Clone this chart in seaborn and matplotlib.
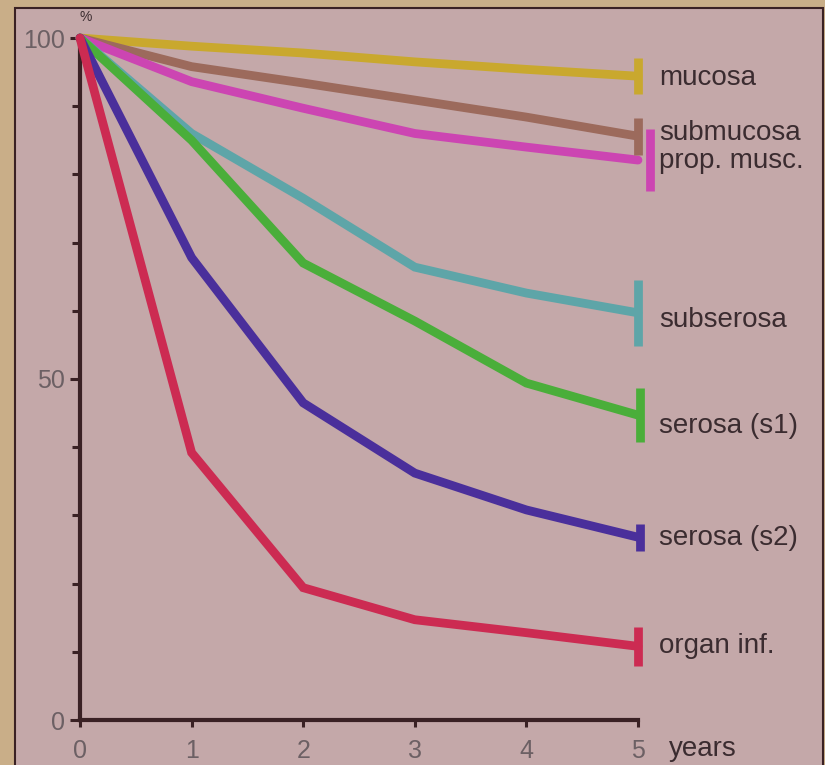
import matplotlib
matplotlib.use("Agg")
import matplotlib.pyplot as plt
from matplotlib.patches import Rectangle
import seaborn as sns
import pandas as pd

# ---- data ----
years = [0, 1, 2, 3, 4, 5]
layers = ["mucosa", "submucosa", "prop. musc.", "subserosa",
          "serosa (s1)", "serosa (s2)", "organ inf."]
mucosa = [100, 98.8, 97.8, 96.5, 95.4, 94.4]
submucosa = [100, 95.8, 93.4, 90.9, 88.4, 85.6]
prop_musc = [100, 93.6, 89.7, 86.0, 84.0, 82.1]
subserosa = [100, 86.0, 76.5, 66.4, 62.6, 59.7]
serosa_s1 = [100, 85.0, 67.0, 58.5, 49.4, 44.7]
serosa_s2 = [100, 67.8, 46.5, 36.2, 30.8, 26.8]
organ_inf = [100, 39.2, 19.4, 14.7, 12.8, 10.8]
series = [mucosa, submucosa, prop_musc, subserosa, serosa_s1, serosa_s2, organ_inf]
y_ticks = [0, 50, 100]
y_tick_labels = ["0", "50", "100"]
x_tick_labels = ["0", "1", "2", "3", "4", "5"]

# ---- style ----
colors = ["#c9a82e", "#9c6a5c", "#cc45b2", "#5ea5a8",
          "#4aae3a", "#4a2f9b", "#cc2b52"]
cap_half = [2.6, 2.7, 4.6, 4.8, 4.0, 2.0, 2.9]
cap_dx = [0, 0, 0.11, 0, 0.02, 0.02, 0]
label_dy_pts = [-1, 2.5, -0.5, -5.5, -7.5, -0.5, 0.5]
panel_col = "#c4a8a9"
frame_col = "#c9ae88"
axis_col = "#3a2124"
text_col = "#3b2c30"
tick_col = "#6c6064"

rows = []
for name, vals in zip(layers, series):
    for yr, v in zip(years, vals):
        rows.append({"year": yr, "pct": v, "layer": name})
df = pd.DataFrame(rows)

sns.set_style("white")
plt.rcParams["font.family"] = ["Liberation Sans", "DejaVu Sans"]

W, H = 825, 765
fig = plt.figure(figsize=(W / 100, H / 100), dpi=100, facecolor=frame_col)
panel = Rectangle((15 / W, -0.01), (823 - 15) / W, (H - 8) / H + 0.01,
                  transform=fig.transFigure, facecolor=panel_col,
                  edgecolor=axis_col, linewidth=1.5, zorder=-10)
fig.patches.append(panel)

ax = fig.add_axes([80 / W, (H - 720) / H, (638 - 80) / W, (720 - 38) / H])
ax.set_zorder(5)
ax.patch.set_alpha(0)

sns.lineplot(data=df, x="year", y="pct", hue="layer", hue_order=layers,
             palette=dict(zip(layers, colors)), linewidth=6.3, legend=False,
             ax=ax, zorder=3)
for ln in ax.lines:
    ln.set_clip_on(False)
    ln.set_solid_joinstyle("miter")

for vals, c, h, dx, dy, name in zip(series, colors, cap_half, cap_dx, label_dy_pts, layers):
    end = vals[-1]
    ax.vlines(years[-1] + dx, end - h, end + h, color=c, linewidth=6.3,
              clip_on=False, zorder=4)
    ax.annotate(name, xy=(years[-1], end), xytext=(15, dy),
                textcoords="offset points", va="center", ha="left",
                fontsize=20, color=text_col, annotation_clip=False)

ax.set_xlim(0, 5)
ax.set_ylim(0, 100)
ax.set_xticks(years)
ax.set_xticklabels(x_tick_labels)
ax.set_yticks(y_ticks)
ax.set_yticklabels(y_tick_labels)
ax.set_yticks(range(0, 101, 10), minor=True)
ax.set_xlabel("")
ax.set_ylabel("")
for s in ["top", "right"]:
    ax.spines[s].set_visible(False)
for s in ["left", "bottom"]:
    ax.spines[s].set_color(axis_col)
    ax.spines[s].set_linewidth(3)
ax.tick_params(axis="both", which="both", direction="out", color=axis_col,
               width=2.2, labelcolor=tick_col, labelsize=18,
               bottom=True, left=True)
ax.tick_params(axis="y", which="major", length=7, pad=4)
ax.tick_params(axis="y", which="minor", length=6)
ax.tick_params(axis="x", which="major", length=5, pad=9)

ax.text(0.0, 1.02, "%", transform=ax.transAxes, fontsize=10, color=text_col,
        ha="left", va="bottom")
ax.annotate("years", xy=(5, 0), xytext=(22, -21), textcoords="offset points",
            fontsize=20, color=text_col, va="center", ha="left",
            annotation_clip=False)

fig.savefig("out.png", dpi=100, facecolor=frame_col)
